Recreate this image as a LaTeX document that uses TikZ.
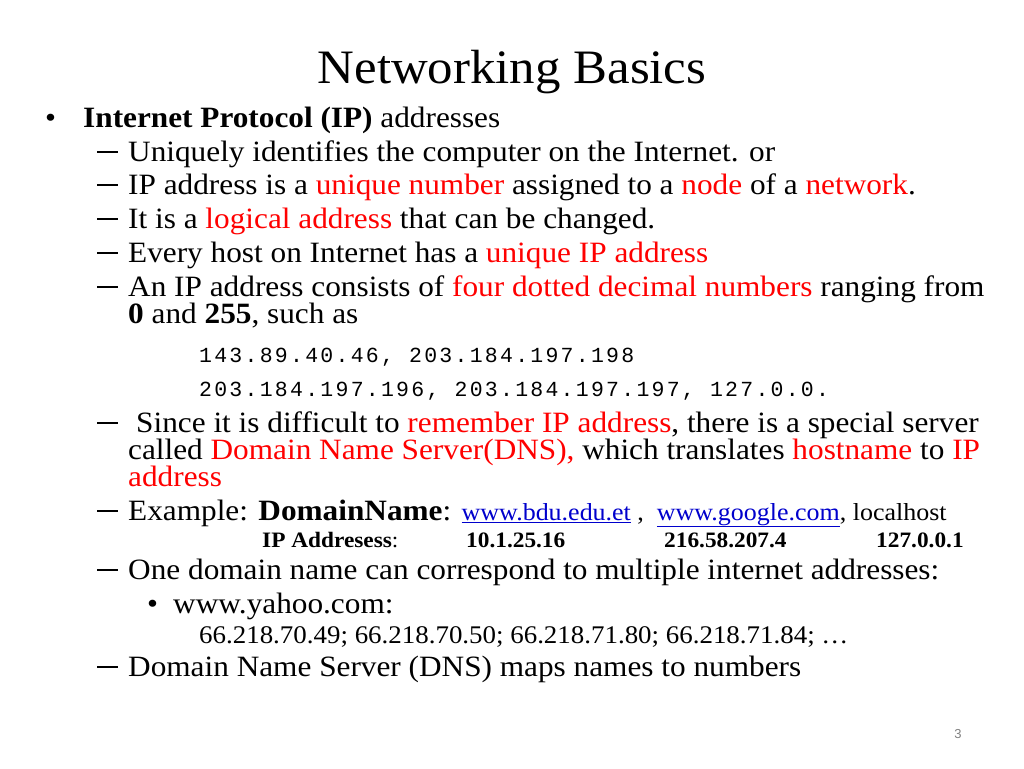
\documentclass[tikz,border=0pt]{standalone}
\usepackage{fontspec}
\setmainfont[FakeStretch=1.06]{Liberation Serif}
\setmonofont[LetterSpace=10.5]{Liberation Mono}
\setsansfont{Liberation Sans}
\definecolor{hl}{RGB}{255,0,0}
\definecolor{lnk}{RGB}{0,0,204}
\newcommand{\hot}[1]{\textcolor{hl}{#1}}
\newcommand{\lk}[1]{\textcolor{lnk}{\underline{#1}}}
\tikzset{
  body/.style={anchor=base west,inner sep=0pt,font=\fontsize{29.5}{29.5}\selectfont},
  mono/.style={anchor=base west,inner sep=0pt,font=\ttfamily\fontsize{21.5}{21.5}\selectfont},
  dashmark/.style={anchor=base west,inner sep=0pt},
  addr/.style={anchor=base west,inner sep=0pt,font=\bfseries\fontsize{22}{22}\selectfont},
}
\begin{document}
\begin{tikzpicture}[x=1pt,y=-1pt]
  \useasboundingbox (0,0) rectangle (1024,768);
  % title
  \node[anchor=base,inner sep=0pt,font=\fontsize{48}{48}\selectfont] (title) at (512,83) {Networking Basics};
  % first level
  \node[body] (b1) at (45,127) {\textbullet};
  \node[body] (ip) at (83,127) {\textbf{Internet Protocol (IP)} addresses};
  % second level
  \foreach \y/\n in {161/1,194/2,228/3,262/4,296/5,432/6,520/7,579/8,676/9}
    \node[dashmark] (d\n) at (97,\y) {\rule[8.5pt]{21pt}{2pt}};
  \node[body] (t1) at (128,161) {Uniquely identifies the computer on the Internet. or};
  \node[body] (t2) at (128,194) {IP address is a \hot{unique number} assigned to a \hot{node} of a \hot{network}.};
  \node[body] (t3) at (128,228) {It is a \hot{logical address} that can be changed.};
  \node[body] (t4) at (128,262) {Every host on Internet has a \hot{unique IP address}};
  \node[body] (t5) at (128,296) {An IP address consists of \hot{four dotted decimal numbers} ranging from};
  \node[body] (t5b) at (128,323) {\textbf{0} and \textbf{255}, such as};
  \node[mono] (m1) at (199,362) {143.89.40.46, 203.184.197.198};
  \node[mono] (m2) at (199,396) {203.184.197.196, 203.184.197.197, 127.0.0.};
  \node[body] (t6) at (136,432) {Since it is difficult to \hot{remember IP address}, there is a special server};
  \node[body] (t6b) at (128,459) {called \hot{Domain Name Server(DNS),} which translates \hot{hostname} to \hot{IP}};
  \node[body] (t6c) at (128,486) {\hot{address}};
  \node[body] (t7) at (128,520) {Example: \textbf{DomainName}: {\fontsize{24.5}{24.5}\selectfont\lk{www.bdu.edu.et} ,~~\lk{www.google.com}, localhost}};
  % address row
  \node[addr,font=\fontsize{22}{22}\selectfont] (ipa) at (262,547) {\textbf{IP Addresess}:};
  \node[addr] (a1) at (466,547) {10.1.25.16};
  \node[addr] (a2) at (664,547) {216.58.207.4};
  \node[addr] (a3) at (876,547) {127.0.0.1};
  \node[body] (t8) at (128,579) {One domain name can correspond to multiple internet addresses:};
  \node[body] (b2) at (147,613) {\textbullet};
  \node[body] (yh) at (173,613) {www.yahoo.com:};
  \node[anchor=base west,inner sep=0pt,font=\fontsize{25.4}{25.4}\selectfont] (yip) at (199,643) {66.218.70.49; 66.218.70.50; 66.218.71.80; 66.218.71.84; \dots};
  \node[body] (t9) at (128,676) {Domain Name Server (DNS) maps names to numbers};
  % page number
  \node[anchor=base,inner sep=0pt,font=\sffamily\fontsize{13}{13}\selectfont,text=gray] (pg) at (958,738) {3};
\end{tikzpicture}
\end{document}
